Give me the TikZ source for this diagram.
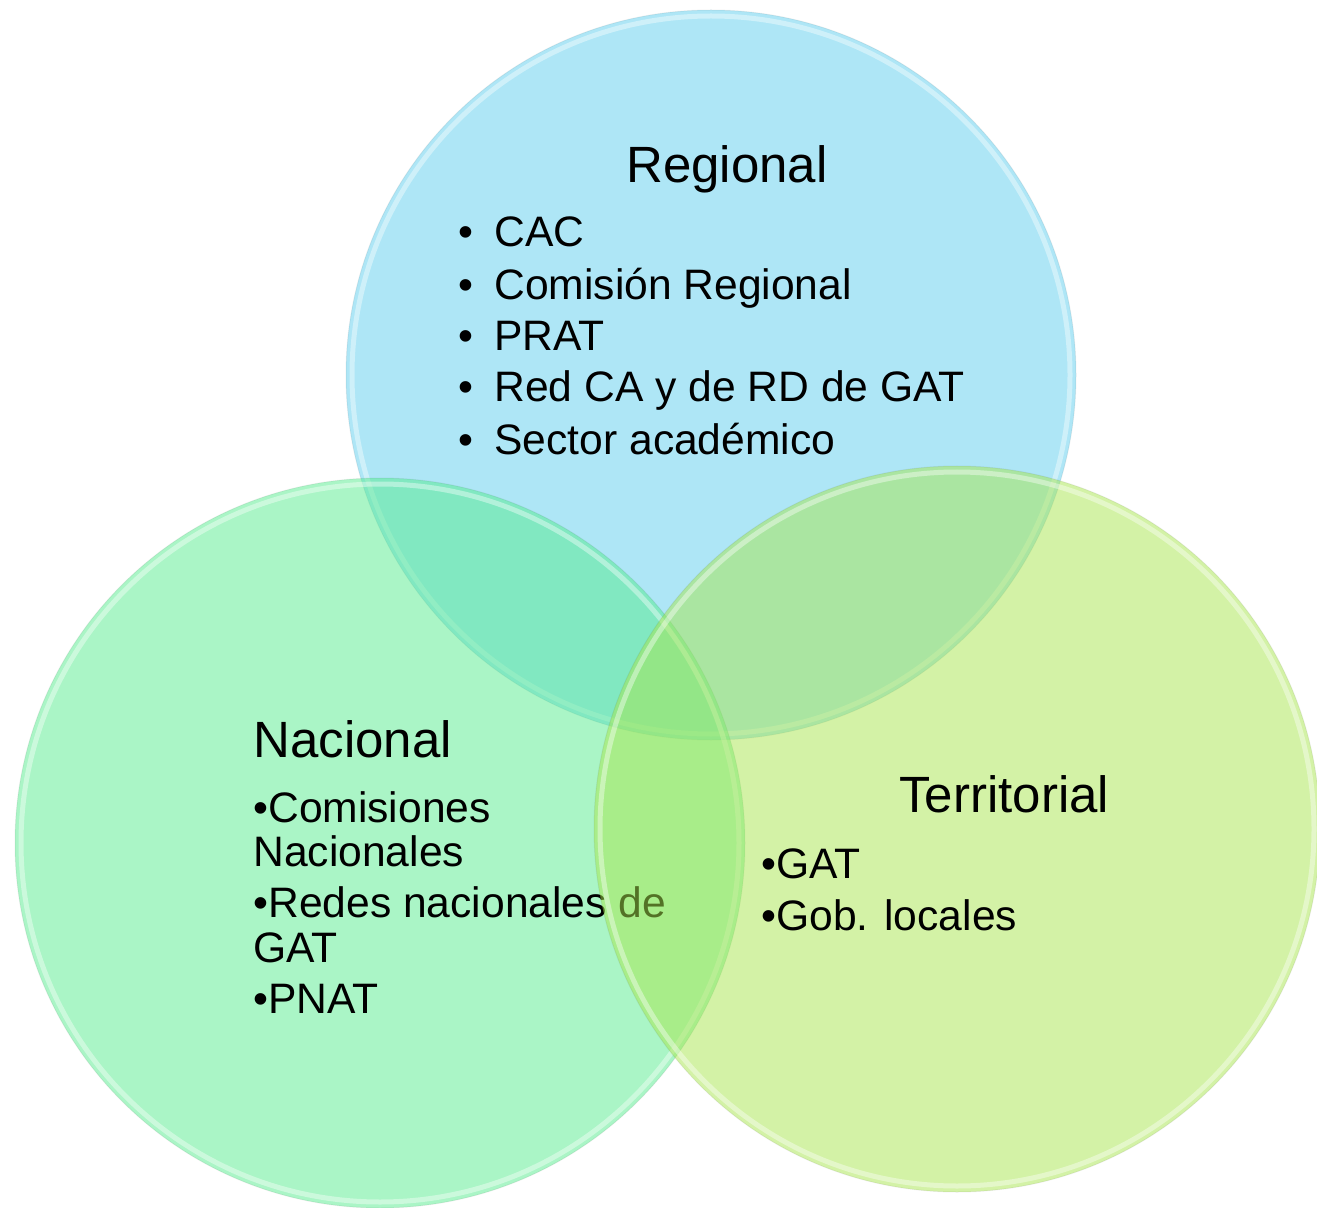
\documentclass[tikz,border=0pt]{standalone}
\usepackage{fontspec}
\setmainfont{Liberation Sans}
\definecolor{cblue}{RGB}{93,205,237}
\definecolor{cgreen}{RGB}{85,235,141}
\definecolor{cyell}{RGB}{167,229,77}
\begin{document}
\begin{tikzpicture}[x=0.5pt,y=-0.5pt,
  disc/.style={fill opacity=0.5},
  rim/.style={draw=white, draw opacity=0.4, line width=2.5pt},
  rimedge/.style={draw=black, draw opacity=0.06, line width=0.5pt},
  head/.style={anchor=base west, inner sep=0pt, font=\fontsize{25.5}{30}\selectfont},
  item/.style={anchor=base west, inner sep=0pt, font=\fontsize{21.3}{25}\selectfont}]
\useasboundingbox (0,0) rectangle (1317,1208);
\coordinate (cR) at (711,375);
\coordinate (cN) at (380,843);
\coordinate (cT) at (957,829);
% Regional
\fill[cblue, disc] (cR) circle[radius=182.5pt];
\draw[rimedge] (cR) circle[radius=182.5pt];
\draw[rim] (cR) circle[radius=179.5pt];
\node[head, anchor=base] (rh) at (727,183) {Regional};
\node[item] (rb1) at (458,247) {•};
\node[item] (ri1) at (494,247) {CAC};
\node[item] (rb2) at (458,300) {•};
\node[item] (ri2) at (494,300) {Comisión Regional};
\node[item] (rb3) at (458,351) {•};
\node[item] (ri3) at (494,351) {PRAT};
\node[item] (rb4) at (458,402) {•};
\node[item] (ri4) at (494,402) {Red CA y de RD de GAT};
\node[item] (rb5) at (458,454) {•};
\node[item] (ri5) at (494,454) {Sector académico};
% Nacional
\fill[cgreen, disc] (cN) circle[radius=182.5pt];
\draw[rimedge] (cN) circle[radius=182.5pt];
\draw[rim] (cN) circle[radius=179.5pt];
\node[head] (nh) at (253,757) {Nacional};
\node[item] (ni1) at (253,822) {•Comisiones};
\node[item] (ni1b) at (253,866) {Nacionales};
\node[item] (ni2) at (253,917) {•Redes nacionales de};
\node[item] (ni2b) at (253,962) {GAT};
\node[item] (ni3) at (253,1013) {•PNAT};
% Territorial
\fill[cyell, disc] (cT) circle[radius=181.5pt];
\draw[rimedge] (cT) circle[radius=181.5pt];
\draw[rim] (cT) circle[radius=178.5pt];
\node[head] (th) at (899,812) {Territorial};
\node[item] (ti1) at (761,878) {•GAT};
\node[item] (ti2) at (761,930) {•Gob. locales};
\end{tikzpicture}
\end{document}
